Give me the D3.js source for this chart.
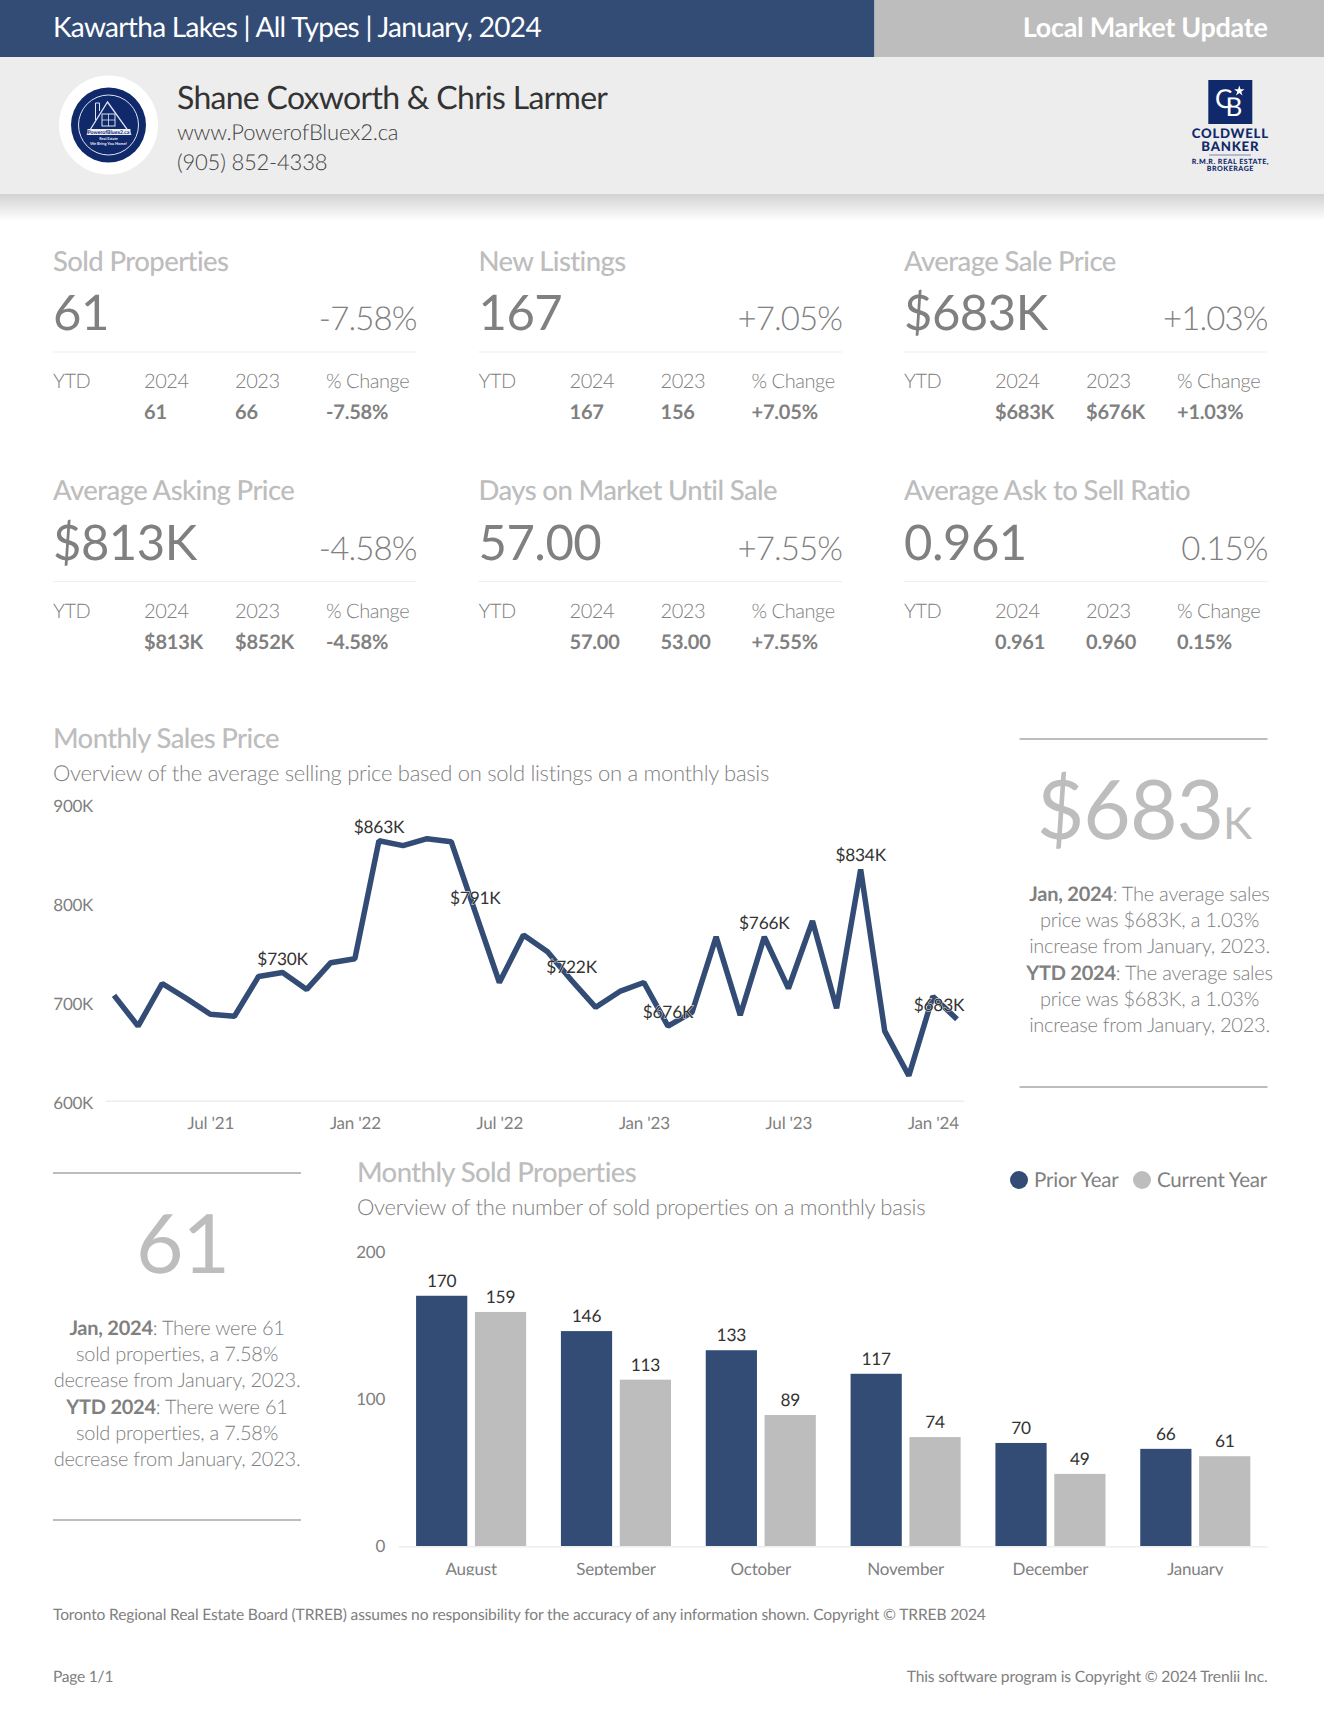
<!DOCTYPE html>
<html><head><meta charset="utf-8">
<script src="https://cdn.jsdelivr.net/npm/d3@7/dist/d3.min.js"></script>
<style>
html,body{margin:0;padding:0;background:#fff}
svg{display:block}
text{font-family:Lato,sans-serif;text-rendering:geometricPrecision}
.axis path,.axis line{display:none}
</style></head><body>
<svg id="c" width="1324" height="1722" viewBox="0 0 1324 1722"></svg>
<script>
// ---- data ----
const headerTitle="Kawartha Lakes | All Types | January, 2024";
const headerRight="Local Market Update";
const agentName="Shane Coxworth & Chris Larmer";
const agentSite="www.PowerofBluex2.ca";
const agentPhone="(905) 852-4338";
const kpiTitles=["Sold Properties","New Listings","Average Sale Price","Average Asking Price","Days on Market Until Sale","Average Ask to Sell Ratio"];
const kpiValues=["61","167","$683K","$813K","57.00","0.961"];
const kpiChanges=["-7.58%","+7.05%","+1.03%","-4.58%","+7.55%","0.15%"];
const kpiPrior=["66","156","$676K","$852K","53.00","0.960"];
const priceValues=[707,676,719,704,688,686,726,730,713,740,744,863,858,865,862,791,720,768,751,722,695,711,720,676,690,766,687,766,714,782,694,834,671,626,706,683];
const priceLabelIdx=[7,11,15,19,23,27,31,35];
const priceTickIdx=[4,10,16,22,28,34];
const priceTickLabels=["Jul '21","Jan '22","Jul '22","Jan '23","Jul '23","Jan '24"];
const priceAxis=[600,700,800,900];
const months=["August","September","October","November","December","January"];
const priorYear=[170,146,133,117,70,66];
const currentYear=[159,113,89,74,49,61];
const soldAxis=[0,100,200];
const seriesNames=["Prior Year","Current Year"];
const priceNote=[[["Jan, 2024",1],[": The average sales",0]],[["price was $683K, a 1.03%",0]],[["increase from January, 2023.",0]],[["YTD 2024",1],[": The average sales",0]],[["price was $683K, a 1.03%",0]],[["increase from January, 2023.",0]]];
const soldNote=[[["Jan, 2024",1],[": There were 61",0]],[["sold properties, a 7.58%",0]],[["decrease from January, 2023.",0]],[["YTD 2024",1],[": There were 61",0]],[["sold properties, a 7.58%",0]],[["decrease from January, 2023.",0]]];

const NAVY="#334c75",GREY="#bdbdbd",MID="#808080";
const svg=d3.select("#c");
function T(x,y,s,size,o={}){
  return svg.append("text").attr("x",x).attr("y",y).text(s)
   .attr("font-size",size).attr("font-weight",o.w||400).attr("fill",o.c||MID)
   .attr("text-anchor",o.a||"start").attr("letter-spacing",o.ls==null?-0.3:o.ls);
}
// header
const defs=svg.append("defs");
const g=defs.append("linearGradient").attr("id","sh").attr("x1",0).attr("x2",0).attr("y1",0).attr("y2",1);
g.append("stop").attr("offset",0).attr("stop-color","#d2d2d2");
g.append("stop").attr("offset",1).attr("stop-color","#fff");
svg.append("rect").attr("x",0).attr("y",194).attr("width",1324).attr("height",27).attr("fill","url(#sh)");
svg.append("rect").attr("x",0).attr("y",57).attr("width",1324).attr("height",137).attr("fill","#ededed");
svg.append("rect").attr("x",0).attr("y",0).attr("width",874.5).attr("height",57).attr("fill",NAVY);
svg.append("rect").attr("x",874.5).attr("y",0).attr("width",450).attr("height",57).attr("fill",GREY);
T(53,37,headerTitle,28,{c:"#fff",ls:-0.68});
T(1267.5,37,headerRight,27,{c:"#fff",a:"end",w:700,ls:-0.3});
T(177,108.5,agentName,32,{c:"#333",ls:-0.71});
T(177,140,agentSite,22,{c:"#444",w:300,ls:-0.2});
T(177,170,agentPhone,22,{c:"#444",w:300,ls:-0.2});
// agent logo
const LX=108.5,LY=125,LOGO="#10296b",LINE="#dfe4f0";
svg.append("circle").attr("cx",LX).attr("cy",LY).attr("r",49.5).attr("fill","#fff");
svg.append("circle").attr("cx",LX).attr("cy",LY).attr("r",37.5).attr("fill",LOGO);
svg.append("circle").attr("cx",LX).attr("cy",LY).attr("r",30).attr("fill","none").attr("stroke",LINE).attr("stroke-width",1);
svg.append("path").attr("d",`M${LX-1} ${LY-23}L${LX+22} ${LY+9}H${LX-21}Z`).attr("fill","none").attr("stroke",LINE).attr("stroke-width",1.3);
svg.append("path").attr("d",`M${LX-13} ${LY-5}V${LY-22}H${LX-9}V${LY-14}`).attr("fill","none").attr("stroke",LINE).attr("stroke-width",1);
svg.append("rect").attr("x",LX-6.5).attr("y",LY-11).attr("width",13).attr("height",12).attr("fill","none").attr("stroke",LINE).attr("stroke-width",1);
svg.append("path").attr("d",`M${LX} ${LY-11}V${LY+1}M${LX-6.5} ${LY-5}H${LX+6.5}`).attr("stroke",LINE).attr("stroke-width",.8);
svg.append("rect").attr("x",LX-21).attr("y",LY+4).attr("width",43).attr("height",6).attr("fill","#eef0f7");
const lt=T(LX,LY+9,"",5.2,{c:LOGO,a:"middle",w:700,ls:0});
lt.append("tspan").text("PowerofBluex2.ca");
lt.append("tspan").attr("x",LX).attr("dy",6).attr("font-size",3.8).attr("fill","#e8ebf5").text("Real Estate");
lt.append("tspan").attr("x",LX).attr("dy",5).attr("font-size",4).attr("fill","#e8ebf5").text("We Bring You Home!");
// coldwell logo
const CB="#10296b";
svg.append("rect").attr("x",1208.3).attr("y",80).attr("width",44).attr("height",44).attr("fill",CB);
const cb=T(1215,107.5,"",26,{c:"#fff",w:400,ls:0});
cb.append("tspan").text("C");
cb.append("tspan").attr("x",1225.5).attr("dy",8.5).text("B");
svg.append("path").attr("d",d3.symbol(d3.symbolStar,34)()).attr("transform","translate(1239.3,91)").attr("fill","#fff");
svg.append("rect").attr("x",1209).attr("y",154.5).attr("width",42).attr("height",1).attr("fill","#7a88ad");
const cw=T(1230.3,138.3,"",13.2,{c:CB,a:"middle",w:900,ls:0.75});
cw.append("tspan").text("COLDWELL");
cw.append("tspan").attr("x",1230.3).attr("dy",12.2).text("BANKER");
cw.append("tspan").attr("x",1230.3).attr("dy",13.5).attr("font-size",7.1).attr("letter-spacing",0.5).text("R.M.R. REAL ESTATE,");
cw.append("tspan").attr("x",1230.3).attr("dy",7).attr("font-size",7.1).attr("letter-spacing",0.5).text("BROKERAGE");
// KPI grid
const colX=[53,478.5,904],rowDY=229.5,subX=[0,91,182,273];
kpiTitles.forEach((t,i)=>{
  const x=colX[i%3],dy=Math.floor(i/3)*rowDY;
  T(x,270.5+dy,t,27.5,{c:GREY,ls:-0.6,w:500});
  T(x,330+dy,kpiValues[i],49,{c:MID,ls:-0.5});
  T(x+363.5,330+dy,kpiChanges[i],33,{c:MID,a:"end",w:300,ls:-0.9});
  svg.append("rect").attr("x",x).attr("y",351.5+dy).attr("width",363.5).attr("height",1).attr("fill","#eee");
  ["YTD","2024","2023","% Change"].forEach((h,j)=>T(x+subX[j],388+dy,h,20,{w:300,ls:-0.45}));
  T(x+subX[1],419+dy,kpiValues[i],20,{w:700,ls:-0.2});
  T(x+subX[2],419+dy,kpiPrior[i],20,{w:700,ls:-0.2});
  T(x+subX[3],419+dy,kpiChanges[i],20,{w:700,ls:-0.2});
});
// Monthly sales price
T(53,748,"Monthly Sales Price",27.5,{c:GREY,ls:-0.62,w:500});
T(53,781,"Overview of the average selling price based on sold listings on a monthly basis",22,{w:300,ls:-0.29});
const px=d3.scaleLinear().domain([0,priceValues.length-1]).range([114,957]);
const py=d3.scaleLinear().domain([600,900]).range([1101.5,804]);
svg.append("rect").attr("x",106).attr("y",1100.5).attr("width",858).attr("height",1.5).attr("fill","#eee");
const yA=svg.append("g").attr("class","axis").attr("transform","translate(93,0)")
  .call(d3.axisLeft(py).tickValues(priceAxis).tickSize(0).tickPadding(0).tickFormat(d=>d+"K"));
yA.selectAll("text").attr("font-size",17).attr("fill",MID).attr("font-family","Lato").attr("letter-spacing",-0.3).attr("dy","0.42em");
const xA=svg.append("g").attr("class","axis").attr("transform","translate(0,1128.5)")
  .call(d3.axisBottom(px).tickValues(priceTickIdx).tickSize(0).tickPadding(0).tickFormat((d,i)=>priceTickLabels[i]));
xA.selectAll("text").attr("y",0).attr("dy",0).attr("font-size",17).attr("fill",MID).attr("font-family","Lato").attr("letter-spacing",-0.2);
svg.append("path").attr("d",d3.line().x((d,i)=>px(i)).y(d=>py(d))(priceValues))
  .attr("fill","none").attr("stroke",NAVY).attr("stroke-width",5.5).attr("stroke-linejoin","bevel");
priceLabelIdx.forEach(i=>{
  const lx=i===priceValues.length-1?px(i)-18:px(i);
  T(lx,py(priceValues[i])-8,"$"+priceValues[i]+"K",17.3,{c:"#333",a:"middle",ls:-0.2})
   .attr("stroke","#fff").attr("stroke-width",.8).attr("paint-order","stroke");
});
// right note
[738,1086].forEach(y=>svg.append("rect").attr("x",1019.5).attr("y",y).attr("width",248).attr("height",2).attr("fill",GREY));
const big=T(1144,839,"$683",82,{c:GREY,a:"middle",w:400,ls:-1});
big.append("tspan").attr("font-size",44).text("K");
function note(lines,cx,y0){
  lines.forEach((ln,k)=>{
    const t=T(cx,y0+k*26.2,"",20,{w:300,a:"middle",ls:-0.25});
    ln.forEach(([s,b])=>t.append("tspan").text(s).attr("font-weight",b?700:300));
  });
}
note(priceNote,1149.5,901);
// left note
[1172,1519].forEach(y=>svg.append("rect").attr("x",53).attr("y",y).attr("width",248).attr("height",2).attr("fill",GREY));
T(182.5,1273,"61",82,{c:GREY,a:"middle",w:400,ls:-1});
note(soldNote,177,1335);
// Monthly sold properties
T(357,1182,"Monthly Sold Properties",27.5,{c:GREY,ls:-0.6,w:500});
T(357,1215,"Overview of the number of sold properties on a monthly basis",22,{w:300,ls:-0.3});
const legendX=[1019,1142],legendColor=d3.scaleOrdinal().domain(seriesNames).range([NAVY,GREY]);
seriesNames.forEach((n,i)=>{
  svg.append("circle").attr("cx",legendX[i]).attr("cy",1180).attr("r",9).attr("fill",legendColor(n));
  T(legendX[i]+15,1187,n,20.5,{ls:-0.2});
});
const bx=d3.scaleBand().domain(months).range([398.7,1267.7]).paddingInner(0.24).paddingOuter(0.12);
const bi=d3.scaleBand().domain(seriesNames).range([0,bx.bandwidth()]).paddingInner(0.13);
const by=d3.scaleLinear().domain([0,200]).range([1546,1251.6]);
svg.append("rect").attr("x",398.7).attr("y",1546).attr("width",869).attr("height",1.5).attr("fill","#eee");
const yB=svg.append("g").attr("class","axis").attr("transform","translate(385,0)")
  .call(d3.axisLeft(by).tickValues(soldAxis).tickSize(0).tickPadding(0));
yB.selectAll("text").attr("font-size",17).attr("fill",MID).attr("font-family","Lato").attr("letter-spacing",-0.3).attr("dy","0.35em");
defs.append("clipPath").attr("id","cl").append("rect").attr("x",380).attr("y",1550).attr("width",900).attr("height",25.5);
const xB=svg.append("g").attr("clip-path","url(#cl)").append("g").attr("class","axis").attr("transform","translate(0,1575)")
  .call(d3.axisBottom(bx).tickSize(0).tickPadding(0));
xB.selectAll("text").attr("y",0).attr("dy",0).attr("font-size",17).attr("fill",MID).attr("font-family","Lato").attr("letter-spacing",-0.2);
[priorYear,currentYear].forEach((vals,s)=>{
  const name=seriesNames[s];
  svg.append("g").selectAll("rect").data(vals).join("rect")
    .attr("x",(d,i)=>bx(months[i])+bi(name)).attr("y",d=>by(d)).attr("width",bi.bandwidth())
    .attr("height",d=>by(0)-by(d)).attr("fill",legendColor(name));
  vals.forEach((d,i)=>T(bx(months[i])+bi(name)+bi.bandwidth()/2,by(d)-9,d,17.3,{c:"#333",a:"middle",ls:-0.2}));
});
// footer
T(53,1619.5,"Toronto Regional Real Estate Board (TRREB) assumes no responsibility for the accuracy of any information shown. Copyright © TRREB 2024",15.6,{ls:-0.15});
T(53,1681.5,"Page 1/1",15.6,{ls:-0.25});
T(1267.5,1681.5,"This software program is Copyright © 2024 Trenlii Inc.",15.6,{a:"end",ls:-0.15});
</script></body></html>
